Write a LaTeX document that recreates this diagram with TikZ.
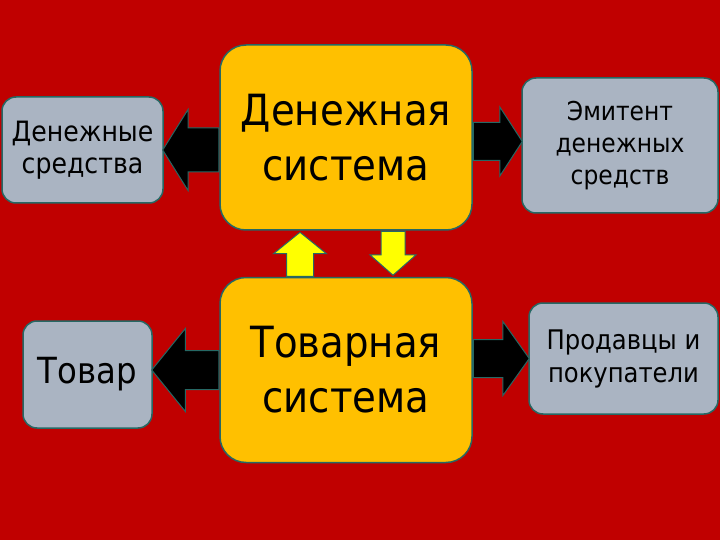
\documentclass[tikz,border=0pt]{standalone}
\usepackage{fontspec}
\setmainfont{DejaVu Sans Condensed}
\usepackage{tikz}
\usetikzlibrary{shapes.arrows,positioning}
\definecolor{bgred}{RGB}{192,0,0}
\definecolor{sysyellow}{RGB}{255,192,0}
\definecolor{boxgray}{RGB}{170,180,194}
\definecolor{edgeteal}{RGB}{38,104,100}
\definecolor{arrowyellow}{RGB}{255,255,0}
\tikzset{
  sys box/.style={
    rectangle,
    rounded corners=26pt,
    draw=edgeteal,
    line width=1.5pt,
    fill=sysyellow,
    minimum width=252pt,
    minimum height=185pt,
    align=center,
    font=\fontsize{43}{55}\selectfont,
    inner sep=0pt,
  },
  side box/.style={
    rectangle,
    rounded corners=14pt,
    draw=edgeteal,
    line width=1.5pt,
    fill=boxgray,
    align=center,
    font=\fontsize{26}{32}\selectfont,
    inner sep=0pt,
  },
  blk arrow/.style={single arrow, draw=edgeteal, line width=1pt, fill=black,
    inner xsep=0pt, minimum width=0pt, anchor=tail},
  ylw arrow/.style={single arrow, draw=edgeteal, line width=1pt, fill=arrowyellow,
    inner xsep=0pt, minimum width=0pt, anchor=tail},
}
\begin{document}
\begin{tikzpicture}[x=1pt,y=-1pt]
  \fill[bgred] (0,0) rectangle (720,540);

  \node[sys box] (dsys) at (346,137.5) {Денежная\\система};
  \node[sys box,below=46pt of dsys] (gsys) {Товарная\\система};

  \node[side box,minimum width=161pt,minimum height=106pt,font=\fontsize{28}{32}\selectfont] (money) at (82.5,150) {Денежные\\средства};
  \node[side box,minimum width=129pt,minimum height=107pt,font=\fontsize{36}{40}\selectfont] (goods) at (87.5,374.5) {Товар};
  \node[side box,minimum width=196pt,minimum height=135pt] (emit) at (620,145.5) {Эмитент\\денежных\\средств};
  \node[side box,minimum width=189pt,minimum height=111pt,font=\fontsize{27}{33}\selectfont] (sellers) at (623.5,358.5) {Продавцы и\\покупатели};

  % black arrows
  \path (money.east -| dsys.west) -- node[blk arrow,pos=0,rotate=180,minimum height=56pt,inner ysep=21.5pt,
    single arrow head extend=18.5pt,single arrow tip angle=116] (a1) {} (money.east);
  \path ([yshift=4pt]emit.west -| dsys.east) -- node[blk arrow,pos=0,minimum height=49pt,inner ysep=18.5pt,
    single arrow head extend=15.5pt,single arrow tip angle=114] (a2) {} ([yshift=4pt]emit.west);
  \path (gsys.west) -- node[blk arrow,pos=0,rotate=180,minimum height=67pt,inner ysep=19pt,
    single arrow head extend=22pt,single arrow tip angle=102] (a3) {} (gsys.west -| goods.east);
  \path (sellers.west -| gsys.east) -- node[blk arrow,pos=0,minimum height=56pt,inner ysep=18.5pt,
    single arrow head extend=18pt,single arrow tip angle=109] (a4) {} (sellers.west);

  % yellow arrows
  \path ([xshift=-46pt]gsys.north) -- node[ylw arrow,pos=0,rotate=90,minimum height=44pt,inner ysep=13pt,
    single arrow head extend=13pt,single arrow tip angle=102] (up) {} ([xshift=-46pt]dsys.south);
  \path ([xshift=47pt]dsys.south) -- node[ylw arrow,pos=0,rotate=-90,minimum height=44pt,inner ysep=11.5pt,
    single arrow head extend=11pt,single arrow tip angle=97] (down) {} ([xshift=47pt]gsys.north);
\end{tikzpicture}
\end{document}
